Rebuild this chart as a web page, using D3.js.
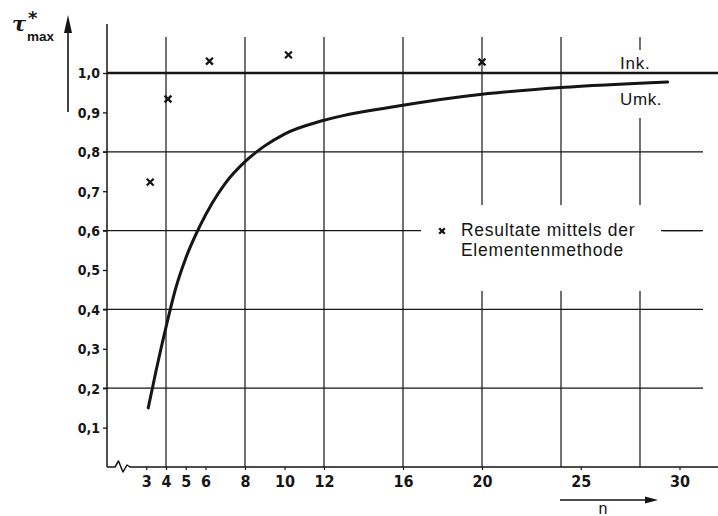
<!DOCTYPE html>
<html>
<head>
<meta charset="utf-8">
<script src="https://cdn.jsdelivr.net/npm/d3@7"></script>
<style>
  html, body { margin: 0; padding: 0; background: #fff; }
  svg { display: block; }
  .tick text { fill: #161616; }
</style>
</head>
<body>
<svg id="chart" width="718" height="516"></svg>
<script>
// Umk. curve: n against tau*_max
const umkN   = [3.1, 3.5, 4, 4.5, 5, 5.7, 7, 8, 9, 10, 12, 16, 20, 24, 29.4];
const umkTau = [0.15, 0.245, 0.355, 0.455, 0.53, 0.61, 0.72, 0.775, 0.815, 0.845, 0.88, 0.918, 0.946, 0.963, 0.977];

// Ink. reference level
const inkTau = 1.0;

// Finite element results (crosses)
const femN   = [3.2, 4.1, 6.2, 10.2, 20];
const femTau = [0.723, 0.934, 1.03, 1.046, 1.028];

// Axis ticks and grid
const xTickValues = [3, 4, 5, 6, 8, 10, 12, 16, 20, 25, 30];
const xGridValues = [4, 8, 12, 16, 20, 24, 28];
const yTickValues = [0.1, 0.2, 0.3, 0.4, 0.5, 0.6, 0.7, 0.8, 0.9, 1.0];
const yGridValues = [0.2, 0.4, 0.6, 0.8];

const ink = "#151515";
const svg = d3.select("#chart");

const x = d3.scaleLinear().domain([1, 32]).range([106.75, 719]);
const y = d3.scaleLinear().domain([0, 1]).range([467, 73]);

const comma = d => d3.format(".1f")(d).replace(".", ",");

// grid
const grid = svg.append("g").attr("stroke", ink).attr("stroke-width", 1.2).attr("fill", "none");
grid.selectAll("line.v").data(xGridValues).join("line")
  .attr("x1", d => x(d)).attr("x2", d => x(d))
  .attr("y1", 37).attr("y2", y(0));
grid.selectAll("line.h").data(yGridValues).join("line")
  .attr("x1", 103).attr("x2", 703)
  .attr("y1", d => y(d)).attr("y2", d => y(d));

// cleared areas behind the text blocks
svg.append("rect").attr("x", 421).attr("y", 205).attr("width", 240).attr("height", 86).attr("fill", "#fff");
svg.append("rect").attr("x", 612).attr("y", 50).attr("width", 54).attr("height", 68).attr("fill", "#fff");

// y axis
const yAxis = d3.axisLeft(y).tickValues(yTickValues).tickFormat(comma).tickSize(4).tickPadding(3);
const gy = svg.append("g").attr("transform", "translate(107,0)").call(yAxis);
gy.select(".domain").remove();
gy.selectAll(".tick line").attr("stroke", ink).attr("stroke-width", 1.3);
gy.selectAll(".tick text")
  .attr("font-family", "'Liberation Sans Narrow', 'DejaVu Sans Condensed', sans-serif")
  .attr("font-weight", "bold").attr("font-size", 14).attr("dy", "0.35em");
svg.append("line").attr("x1", 107).attr("x2", 107).attr("y1", 24).attr("y2", y(0))
  .attr("stroke", ink).attr("stroke-width", 1.5);

// x axis
const xAxis = d3.axisBottom(x).tickValues(xTickValues).tickFormat(d3.format("d")).tickSize(3).tickPadding(6);
const gx = svg.append("g").attr("transform", `translate(0,${y(0)})`).call(xAxis);
gx.select(".domain").remove();
gx.selectAll(".tick line").attr("stroke", ink).attr("stroke-width", 1.2);
gx.selectAll(".tick text")
  .attr("font-family", "'Liberation Sans Narrow', 'DejaVu Sans Condensed', sans-serif")
  .attr("font-size", 16).attr("font-weight", "bold");

// x axis baseline with break mark
const y0 = y(0);
svg.append("path")
  .attr("d", `M107,${y0} L115,${y0} L118.5,${y0 - 6} L123,${y0 + 5} L127,${y0 - 2} L130,${y0} L718,${y0}`)
  .attr("fill", "none").attr("stroke", ink).attr("stroke-width", 1.5).attr("stroke-linejoin", "round");

// Ink. line
svg.append("line").attr("x1", 107).attr("x2", 718).attr("y1", y(inkTau)).attr("y2", y(inkTau))
  .attr("stroke", ink).attr("stroke-width", 2.4);

// Umk. curve
const umk = umkN.map((n, i) => [n, umkTau[i]]);
svg.append("path").datum(umk)
  .attr("d", d3.line().x(d => x(d[0])).y(d => y(d[1])).curve(d3.curveMonotoneX))
  .attr("fill", "none").attr("stroke", ink).attr("stroke-width", 3).attr("stroke-linecap", "round");

// crosses
const cross = (g, cx, cy, r) => {
  g.append("path")
    .attr("d", `M${cx - r},${cy - r} L${cx + r},${cy + r} M${cx - r},${cy + r} L${cx + r},${cy - r}`)
    .attr("stroke", ink).attr("stroke-width", 2.3).attr("fill", "none");
};
const gc = svg.append("g");
femN.forEach((n, i) => cross(gc, x(n), y(femTau[i]), 3.4));

// curve labels
const labelFont = "'Liberation Sans', Arial, sans-serif";
svg.append("text").attr("x", 620).attr("y", 69).text("Ink.")
  .attr("font-family", labelFont).attr("font-size", 17).attr("letter-spacing", 0.8).attr("fill", ink);
svg.append("text").attr("x", 620).attr("y", 105).text("Umk.")
  .attr("font-family", labelFont).attr("font-size", 17).attr("letter-spacing", 0.6).attr("fill", ink);

// legend
cross(svg, 442, 231, 2.8);
svg.append("text").attr("x", 461).attr("y", 236).text("Resultate mittels der")
  .attr("font-family", labelFont).attr("font-size", 17.5).attr("letter-spacing", 0.7).attr("fill", ink);
svg.append("text").attr("x", 461).attr("y", 256).text("Elementenmethode")
  .attr("font-family", labelFont).attr("font-size", 17.5).attr("letter-spacing", 0.7).attr("fill", ink);
svg.append("line").attr("x1", 663).attr("x2", 702).attr("y1", y(0.6)).attr("y2", y(0.6))
  .attr("stroke", ink).attr("stroke-width", 1.2);

// y axis title with arrow
svg.append("line").attr("x1", 68).attr("x2", 68).attr("y1", 112).attr("y2", 28)
  .attr("stroke", ink).attr("stroke-width", 1.6);
svg.append("path").attr("d", "M68,15 L72,33 L64,33 Z").attr("fill", ink);
const t = svg.append("text").attr("x", 12).attr("y", 31)
  .attr("font-family", "'DejaVu Serif', serif").attr("font-weight", "bold").attr("fill", ink);
t.append("tspan").attr("font-size", 21).attr("font-style", "italic").text("τ");
svg.append("text").attr("x", 28).attr("y", 24).text("*")
  .attr("font-family", "'DejaVu Sans', sans-serif").attr("font-weight", "bold").attr("font-size", 18).attr("fill", ink);
svg.append("text").attr("x", 27).attr("y", 41).text("max")
  .attr("font-family", "'Liberation Sans', Arial, sans-serif").attr("font-weight", "bold").attr("font-size", 13.5).attr("fill", ink);

// x axis title with arrow
svg.append("line").attr("x1", 560).attr("x2", 648).attr("y1", 500).attr("y2", 500)
  .attr("stroke", ink).attr("stroke-width", 1.6);
svg.append("path").attr("d", "M658,500 L645,496.5 L645,503.5 Z").attr("fill", ink);
svg.append("text").attr("x", 603).attr("y", 514).attr("text-anchor", "middle").text("n")
  .attr("font-family", labelFont).attr("font-size", 16).attr("fill", ink);
</script>
</body>
</html>
